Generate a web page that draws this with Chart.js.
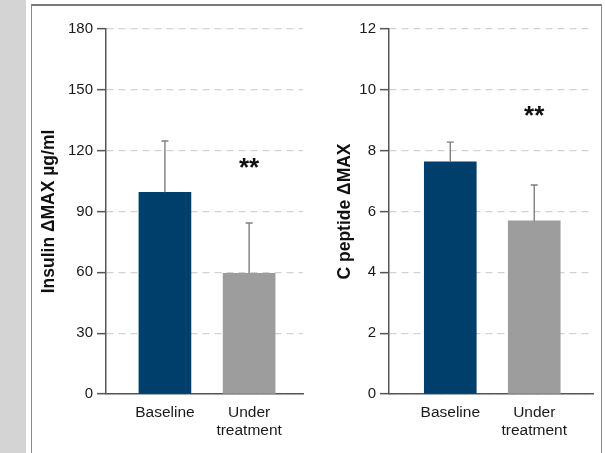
<!DOCTYPE html>
<html>
<head>
<meta charset="utf-8">
<script src="https://cdn.jsdelivr.net/npm/chart.js@4"></script>
<style>
  body { margin: 0; background: #fff; width: 605px; height: 453px; overflow: hidden; position: relative; }
  #strip { position: absolute; left: 0; top: 0; width: 26px; height: 453px; background: #d4d4d4; }
  #panel { position: absolute; left: 31px; top: 4px; width: 569px; height: 447px; border: 1px solid #8a8a8a; border-top: 2px solid #7a7a7a; }
  .box { position: absolute; top: 5px; height: 446px; }
</style>
</head>
<body>
<div id="strip"></div>
<div id="panel"></div>
<div class="box" style="left:32px;width:283px"><canvas id="insulinChart"></canvas></div>
<div class="box" style="left:315px;width:285px"><canvas id="cpeptideChart"></canvas></div>
<script>
// categories (second one wraps onto two lines)
var categories = ['Baseline', ['Under', 'treatment']];
var barColors = ['#003f6c', '#9d9d9d'];

// insulin panel
var insulinMeans = [99.5, 59.5];
var insulinErrTop = [124.8, 84.3];
var insulinStars = 114; // y value of the ** mark over "Under treatment"

// c peptide panel
var cpepMeans = [7.63, 5.69];
var cpepErrTop = [8.28, 6.87];
var cpepStars = 9.3;

var fontFam = "'Liberation Sans Narrow', 'Arial Narrow', 'Liberation Sans', sans-serif";

// draws the upper error whisker and the ** mark
var errorBarPlugin = {
  id: 'errorBars',
  afterDatasetsDraw: function(chart, args, opts) {
    var ctx = chart.ctx;
    var x = chart.scales.x, y = chart.scales.y;
    ctx.save();
    ctx.strokeStyle = '#7f7f7f';
    ctx.lineWidth = 1.4;
    opts.means.forEach(function(m, i) {
      var px = x.getPixelForValue(i);
      var y0 = y.getPixelForValue(m);
      var y1 = y.getPixelForValue(opts.tops[i]);
      ctx.beginPath();
      ctx.moveTo(px, y0);
      ctx.lineTo(px, y1);
      ctx.moveTo(px - 3.5, y1);
      ctx.lineTo(px + 3.5, y1);
      ctx.stroke();
    });
    ctx.fillStyle = '#111';
    ctx.font = 'bold 26px ' + fontFam;
    ctx.textAlign = 'center';
    ctx.textBaseline = 'middle';
    ctx.fillText('**', x.getPixelForValue(1), y.getPixelForValue(opts.stars) + 6);
    ctx.restore();
  }
};

function makeChart(id, means, tops, stars, yMax, yStep, title, xMin, xMax, titlePad, padRight) {
  var points = means.map(function(v, i) { return {x: i, y: v}; });
  return new Chart(document.getElementById(id), {
    type: 'bar',
    data: {
      datasets: [{
        data: points,
        backgroundColor: barColors,
        borderWidth: 0,
        barThickness: 52
      }]
    },
    options: {
      responsive: true,
      maintainAspectRatio: false,
      animation: false,
      layout: { padding: { top: 24, right: padRight, bottom: 0, left: 0 } },
      plugins: {
        legend: { display: false },
        tooltip: { enabled: false },
        errorBars: { means: means, tops: tops, stars: stars }
      },
      scales: {
        x: {
          type: 'linear',
          offset: false,
          min: xMin,
          max: xMax,
          afterBuildTicks: function(s) {
            s.ticks = categories.map(function(c, i) { return {value: i}; });
          },
          afterFit: function(s) { s.height = 57; },
          ticks: {
            callback: function(v) { return categories[v]; },
            color: '#1a1a1a',
            font: { family: fontFam, size: 15.5, lineHeight: 1.15 },
            padding: 10,
            maxRotation: 0,
            autoSkip: false
          },
          grid: { display: false, drawTicks: false },
          border: { display: true, color: '#555', width: 1.5 }
        },
        y: {
          min: 0,
          max: yMax,
          afterFit: function(s) { s.width = 74; },
          ticks: {
            stepSize: yStep,
            color: '#1a1a1a',
            font: { family: fontFam, size: 15 },
            padding: 4
          },
          grid: {
            color: '#d2d2d2',
            lineWidth: 1.3,
            tickColor: '#555',
            tickWidth: 1.5,
            tickLength: 9,
            tickBorderDash: []
          },
          border: { display: true, color: '#555', width: 1.5, dash: [7, 5] },
          title: {
            display: true,
            text: title,
            color: '#111',
            font: { family: fontFam, size: 17.5, weight: 'bold' },
            padding: { top: titlePad, bottom: 0 }
          }
        }
      }
    },
    plugins: [errorBarPlugin]
  });
}

makeChart('insulinChart', insulinMeans, insulinErrTop, insulinStars, 180, 30, 'Insulin \u0394MAX \u00b5g/ml', -0.70, 1.64, 7, 12);
makeChart('cpeptideChart', cpepMeans, cpepErrTop, cpepStars, 12, 2, 'C peptide \u0394MAX', -0.73, 1.70, 20, 7);
</script>
</body>
</html>
